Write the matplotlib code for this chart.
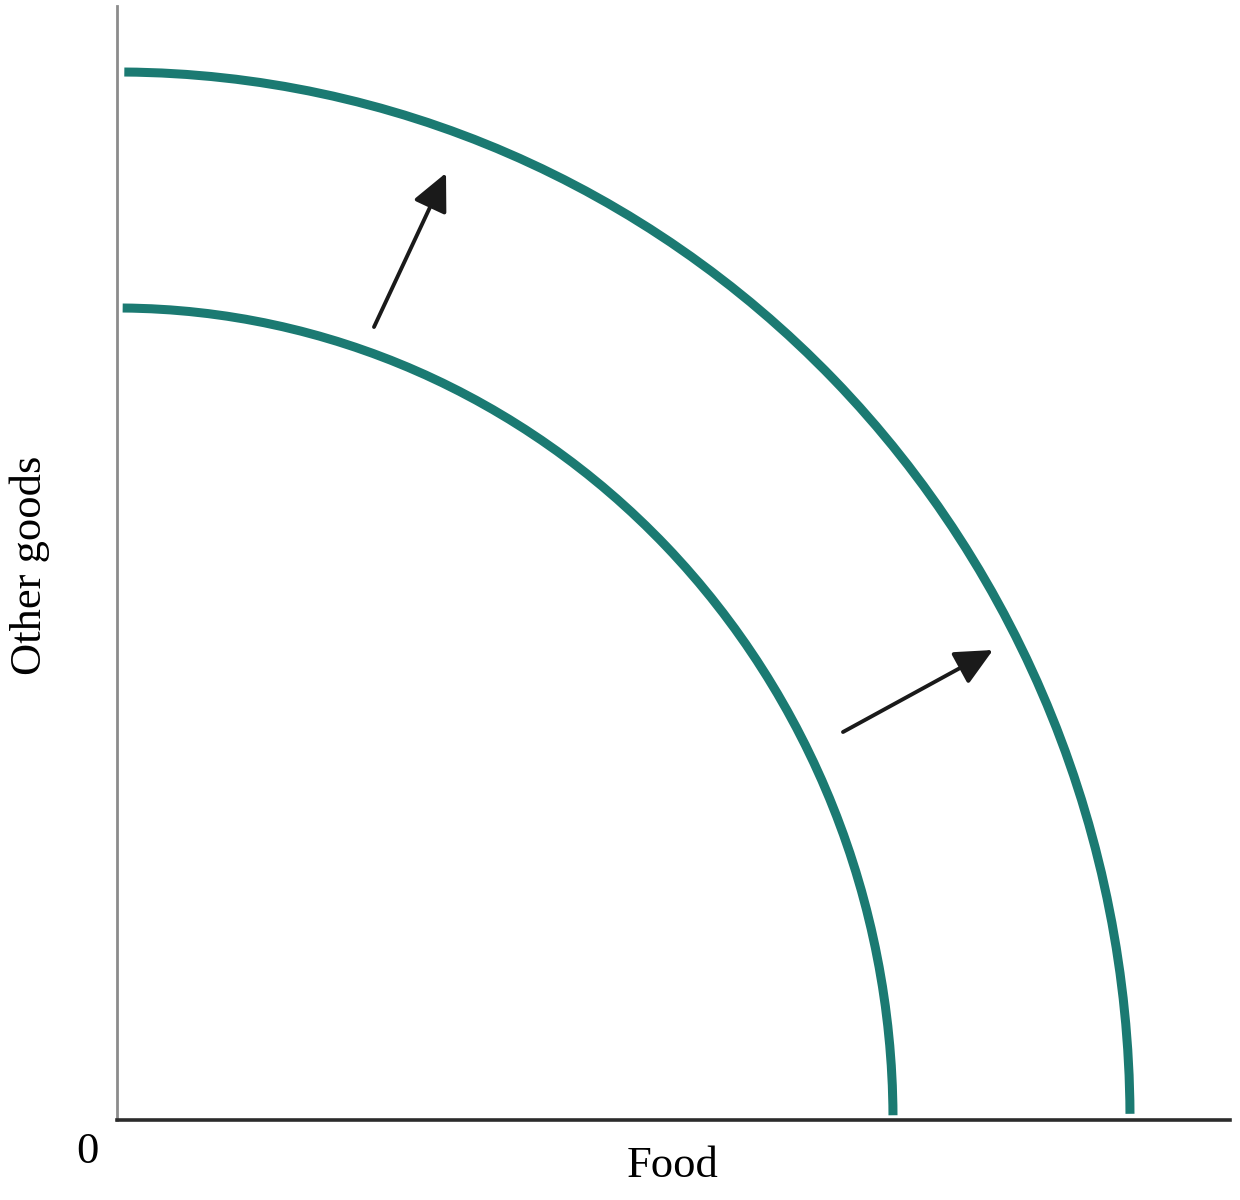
import matplotlib
matplotlib.use("Agg")
import matplotlib.pyplot as plt
from matplotlib.patches import Arc

# production possibilities frontiers: intercepts
frontier_names = ["before", "after"]
food_max = [7.76, 10.13]    # x intercept (Food)
other_max = [8.12, 10.48]   # y intercept (Other goods)

# shift arrows: (x, y) of tail and head
arrow_tails = [(2.57, 7.93), (7.26, 3.88)]
arrow_heads = [(3.29, 9.47), (8.76, 4.70)]

x_label = "Food"
y_label = "Other goods"
origin_label = "0"

TEAL = "#1b7a72"
SERIF = ["Liberation Serif", "DejaVu Serif"]

fig = plt.figure(figsize=(12.4, 12.0), dpi=100)
ax = fig.add_axes([117 / 1240, 80 / 1200, 1113 / 1240, 1114 / 1200])
ax.set_xlim(0, 11.13)
ax.set_ylim(0, 11.14)

# quarter ellipse through both intercepts, stopping just short of the axes
for name, a, b in zip(frontier_names, food_max, other_max):
    arc = Arc((0, 0), 2 * a, 2 * b, theta1=0.35, theta2=89.6,
              color=TEAL, lw=6.5, capstyle="butt")
    ax.add_patch(arc)

for tail, head in zip(arrow_tails, arrow_heads):
    ax.annotate("", xy=head, xytext=tail,
                arrowprops=dict(arrowstyle="-|>,head_length=2.3,head_width=1.1",
                                mutation_scale=10, lw=2.8, color="#1a1a1a",
                                shrinkA=0, shrinkB=0))

ax.spines["top"].set_visible(False)
ax.spines["right"].set_visible(False)
ax.spines["left"].set_color("#8c8c8c")
ax.spines["left"].set_linewidth(2.0)
ax.spines["bottom"].set_color("#2b2b2b")
ax.spines["bottom"].set_linewidth(2.6)
ax.set_xticks([])
ax.set_yticks([])

fig.text(673 / 1240, 1 - 1166 / 1200, x_label, family=SERIF, fontsize=32,
         ha="center", va="center")
fig.text(30 / 1240, 1 - 565 / 1200, y_label, family=SERIF, fontsize=32,
         ha="center", va="center", rotation=90)
fig.text(87 / 1240, 1 - 1152 / 1200, origin_label, family=SERIF, fontsize=32,
         ha="center", va="center")

fig.savefig("out.png", dpi=100)
